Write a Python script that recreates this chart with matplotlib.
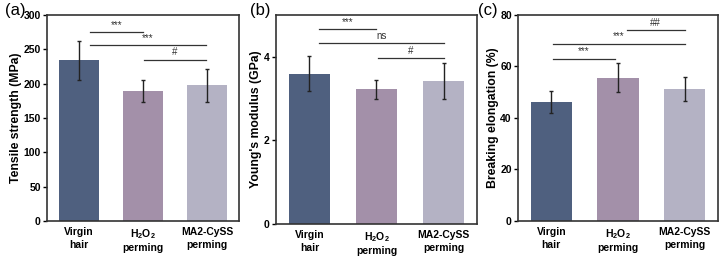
import numpy as np
import matplotlib
matplotlib.use('Agg')
import matplotlib.pyplot as plt

plt.rcParams['font.family'] = ['Liberation Sans', 'DejaVu Sans']
plt.rcParams['mathtext.fontset'] = 'custom'
plt.rcParams['mathtext.bf'] = 'Liberation Sans:bold'
plt.rcParams['mathtext.rm'] = 'Liberation Sans'

# data
groups = ['Virgin\nhair', '$\\mathbf{H_2O_2}$\nperming', 'MA2-CySS\nperming']
colors = ['#4f607f', '#a390a9', '#b4b2c4']

tensile = [234, 189, 198]
tensile_err = [28, 16, 24]
modulus = [3.6, 3.22, 3.43]
modulus_err = [0.42, 0.23, 0.43]
elong = [46.3, 55.7, 51.3]
elong_err = [4.2, 5.8, 4.7]

# significance brackets: (x start, x end, y, label)
sig_a = [(0.17, 1.0, 275, '***'), (0.17, 1.98, 256, '***'), (1.02, 1.98, 235, '#')]
sig_b = [(0.14, 1.0, 4.66, '***'), (0.14, 2.0, 4.33, 'ns'), (1.02, 2.0, 3.97, '#')]
sig_c = [(0.03, 0.95, 62.9, '***'), (0.03, 2.0, 68.9, '***'), (1.13, 2.0, 74.0, '##')]

panels = [
    ('(a)', tensile, tensile_err, 'Tensile strength (MPa)', (0, 300), [0, 50, 100, 150, 200, 250, 300], sig_a,
     [0.065, 0.147, 0.265, 0.795], 5),
    ('(b)', modulus, modulus_err, "Young's modulus (GPa)", (0, 5), [0, 2, 4], sig_b,
     [0.381, 0.135, 0.278, 0.807], 250),
    ('(c)', elong, elong_err, 'Breaking elongation (%)', (0, 80), [0, 20, 40, 60, 80], sig_c,
     [0.7155, 0.147, 0.276, 0.795], 478),
]

W, H = 724, 259
fig = plt.figure(figsize=(7.24, 2.59), dpi=100)
x = np.arange(len(groups))

for label, vals, errs, ylab, ylim, yticks, sig, rect, lx in panels:
    ax = fig.add_axes(rect)
    ax.bar(x, vals, width=0.62, color=colors, zorder=2)
    ax.errorbar(x, vals, yerr=errs, fmt='none', ecolor='#222222', elinewidth=1.0,
                capsize=1.5, capthick=1.0, zorder=3)
    span = ylim[1] - ylim[0]
    for x0, x1, y, txt in sig:
        ax.plot([x0, x1], [y, y], color='#333333', lw=0.9)
        ax.text((x0 + x1) / 2, y + span * 0.012, txt, ha='center', va='bottom',
                fontsize=7, color='#333333')
    ax.set_xlim(-0.5, 2.5)
    ax.set_ylim(*ylim)
    ax.set_yticks(yticks)
    ax.set_xticks(x)
    ax.set_xticklabels(groups, fontsize=7.5, fontweight='bold', linespacing=1.3)
    ax.tick_params(axis='x', length=0, pad=4.5)
    ax.tick_params(axis='y', labelsize=7.5, length=3, width=1, pad=1.5, direction='out')
    for t in ax.get_yticklabels():
        t.set_fontweight('bold')
    ax.set_ylabel(ylab, fontsize=8.8, fontweight='bold', labelpad=1)
    for s in ax.spines.values():
        s.set_linewidth(1.2)
        s.set_color('#333333')
    fig.text(lx / W, 1 - 2.5 / H, label, fontsize=12, va='top', ha='left')

plt.savefig('out.png', dpi=100)
